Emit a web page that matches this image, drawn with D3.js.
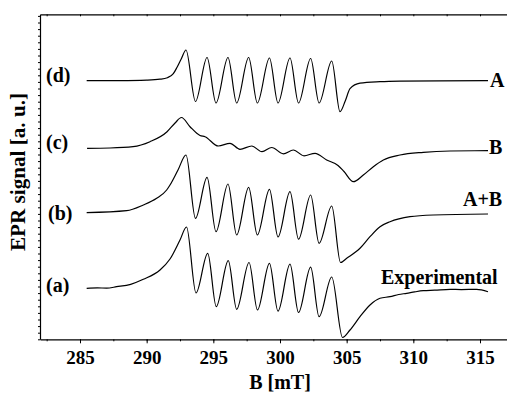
<!DOCTYPE html>
<html>
<head>
<meta charset="utf-8">
<style>
  body { margin: 0; background: #fff; }
  svg { display: block; }
  text { font-family: "Liberation Serif", "Times New Roman", serif; font-weight: bold; fill: #000; }
  .axis .domain { stroke: #000; stroke-width: 1.2px; }
  .axis .tick line { stroke: #000; stroke-width: 1px; }
  .axis .tick text { font-size: 19px; font-family: "Liberation Serif", serif; font-weight: bold; }
</style>
</head>
<body>
<svg width="507" height="394"></svg>
<script src="https://d3js.org/d3.v7.min.js"></script>
<script>
// field values (mT) and signal deviation from each trace's baseline (a.u.)
const traceA = [
  [285.5, 0], [288, 0.1], [290, 0.6], [291, 1.5], [291.55, 3], [292, 7], [292.28, 13.5], [292.6, 22], [292.95, 30.7],
  [293.66, -20.8], [294.53, 23.2], [295.2, -22.3], [296.1, 23.2], [296.75, -22.3], [297.65, 23.2], [298.3, -22.3],
  [299.21, 22.7], [299.85, -22.3], [300.75, 22.7], [301.39, -22.3], [302.3, 22.2], [302.93, -22.3], [303.88, 19.7],
  [304.5, -31], [304.9, -20], [305.25, -8], [306, -2.5], [307.5, -1], [309, -0.4], [312, -0.1], [315.6, 0]
];
const traceB = [
  [285.53, 0], [287.25, 0.3], [288.98, 1.6], [290.25, 6.6], [291.53, 16.6], [292.13, 25.3], [292.61, 30.8],
  [293.25, 21.6], [294.0, 12.8], [294.38, 11.6], [295.37, 2.3], [296.25, 5], [297.0, -1], [297.88, 2.3],
  [298.65, -3.4], [299.38, 0.8], [300.25, -5.5], [301.0, -1.7], [301.8, -7.5], [302.63, -5], [303.5, -11.7],
  [304.35, -17.2], [304.8, -23.2], [305.5, -33.4], [306.25, -26.7], [307.0, -18.4], [307.75, -11.7],
  [309.0, -6.7], [310.75, -4], [312.75, -2.7], [315.6, -2.4]
];
const traceAB = [
  [285.5, 0], [288.5, 2], [289.75, 7.7], [290.75, 14.4], [291.5, 22.7], [291.75, 27.7], [292.35, 42.7], [292.95, 57.7],
  [293.66, -5.6], [294.53, 35.4], [295.2, -19], [296.1, 28.7], [296.75, -22.3], [297.65, 25.4], [298.3, -22.3],
  [299.21, 23.4], [299.85, -24.3], [300.75, 21], [301.39, -26.5], [302.3, 17.7], [302.93, -30.6], [303.88, 6.7],
  [304.54, -49.8], [305.0, -45.6], [306.0, -35.6], [306.75, -24], [307.5, -14], [308.25, -9], [309.75, -4],
  [311.5, -2.3], [315.6, -1.3]
];
const traceExp = [
  [285.5, 0], [286.3, 0.4], [287, 0.2], [287.75, 1.6], [288.8, 4], [289.75, 9], [291.0, 18.3], [291.75, 29.3],
  [292.5, 48.3], [292.99, 61.3],
  [293.7, -4.7], [294.58, 35], [295.22, -18.4], [296.12, 27.6], [296.75, -21], [297.68, 25.8], [298.31, -21.7],
  [299.21, 25], [299.85, -22.9], [300.75, 24.1], [301.39, -24.2], [302.3, 21.1], [302.93, -28.4], [303.88, 11.3],
  [304.69, -49.2], [305.25, -41.7], [306.0, -28.4], [306.75, -16.7], [307.5, -10], [308.25, -8.4], [308.9, -6.2],
  [309.5, -5], [310.1, -3.6], [310.75, -2.4], [311.6, -1.9], [312.75, -1], [313.6, -1.3], [314.75, -1], [315.6, -3.4]
];
const traces = [traceA, traceB, traceAB, traceExp];
const baselines = [258.6, 191, 126.6, 51];
const leftLabels = ["(d)", "(c)", "(b)", "(a)"];
const rightLabels = ["A", "B", "A+B", "Experimental"];
const xTicks = [285, 290, 295, 300, 305, 310, 315];
const xMinorTicks = d3.range(282.5, 318, 2.5);

const svg = d3.select("svg");
const plotLeft = 40, plotTop = 14.3, plotBottom = 339.3;

const x = d3.scaleLinear().domain([282, 318]).range([plotLeft, 520]);
const y = d3.scaleLinear().domain([0, 325]).range([plotBottom, plotTop]);

// frame: top edge with small inward ticks
svg.append("g")
  .attr("class", "axis")
  .attr("transform", `translate(0,${plotTop})`)
  .call(d3.axisTop(x).tickValues(xMinorTicks).tickSize(-2).tickFormat("").tickSizeOuter(0));

// left edge with dense small ticks
svg.append("g")
  .attr("class", "axis")
  .attr("transform", `translate(${plotLeft},0)`)
  .call(d3.axisLeft(y).tickValues(d3.range(0, 325, 6.6)).tickSize(2).tickFormat("").tickSizeOuter(0));

// bottom axis: minor + major
svg.append("g")
  .attr("class", "axis")
  .attr("transform", `translate(0,${plotBottom})`)
  .call(d3.axisBottom(x).tickValues(xMinorTicks).tickSize(2).tickFormat("").tickSizeOuter(0));
svg.append("g")
  .attr("class", "axis")
  .attr("transform", `translate(0,${plotBottom})`)
  .call(d3.axisBottom(x).tickValues(xTicks).tickSize(4).tickPadding(7).tickFormat(d3.format("d")).tickSizeOuter(0))
  .call(g => g.select(".domain").remove());

const line = d3.line()
  .x(d => x(d[0]))
  .y(d => d[1])
  .curve(d3.curveMonotoneX);

svg.append("g")
  .selectAll("path")
  .data(traces)
  .join("path")
  .attr("d", (t, i) => line(t.map(d => [d[0], y(baselines[i] + d[1])])))
  .style("fill", "none")
  .style("stroke", "#000")
  .style("stroke-width", "1.2px");

// labels on the left of each trace
const leftX = [46, 46, 48, 46];
const leftY = [82, 148.5, 220, 291.5];
svg.append("g")
  .selectAll("text")
  .data(leftLabels)
  .join("text")
  .attr("x", (d, i) => leftX[i])
  .attr("y", (d, i) => leftY[i])
  .style("font-size", "20px")
  .text(d => d);

// labels on the right of each trace
const rightX = [490, 489, 463, 381];
const rightY = [86.5, 154, 206, 283.5];
svg.append("g")
  .selectAll("text")
  .data(rightLabels)
  .join("text")
  .attr("x", (d, i) => rightX[i])
  .attr("y", (d, i) => rightY[i])
  .style("font-size", "20px")
  .text(d => d);

svg.append("text")
  .attr("x", 280)
  .attr("y", 389)
  .attr("text-anchor", "middle")
  .style("font-size", "20px")
  .text("B [mT]");

svg.append("text")
  .attr("transform", "translate(25,172) rotate(-90)")
  .attr("text-anchor", "middle")
  .style("font-size", "20px")
  .attr("textLength", 158)
  .attr("lengthAdjust", "spacingAndGlyphs")
  .text("EPR signal [a. u.]");
</script>
</body>
</html>
